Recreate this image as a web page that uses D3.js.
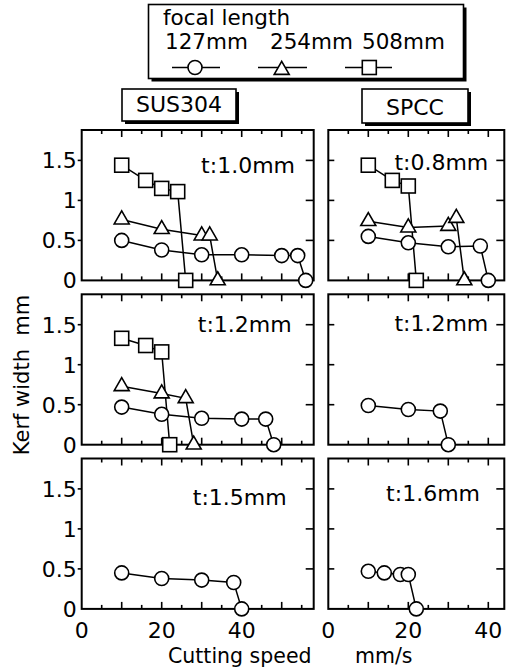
<!DOCTYPE html>
<html><head><meta charset="utf-8">
<script src="https://d3js.org/d3.v7.min.js"></script>
<style>body{margin:0;background:#fff}svg{display:block}</style>
</head><body>
<script>
// ---- data ----
const focalLengths = ["127mm", "254mm", "508mm"];
const materials = ["SUS304", "SPCC"];
const thickLabels = [["t:1.0mm", "t:1.2mm", "t:1.5mm"], ["t:0.8mm", "t:1.2mm", "t:1.6mm"]];
const xTickLabelsSUS = [0, 20, 40];
const xTickLabelsSPCC = [0, 20, 40];
const yTickLabels = [0, 0.5, 1, 1.5];

// SUS304 t:1.0mm
const sus10Circle = [[10,0.50],[20,0.38],[30,0.32],[40,0.32],[50,0.31],[54,0.31],[56,0]];
const sus10Tri    = [[10,0.76],[20,0.64],[30,0.56],[32,0.56],[34,0]];
const sus10Square = [[10,1.44],[16,1.25],[20,1.15],[24,1.11],[26,0]];
// SPCC t:0.8mm
const spcc08Circle = [[10,0.55],[20,0.47],[30,0.42],[38,0.43],[40,0]];
const spcc08Tri    = [[10,0.74],[20,0.66],[30,0.68],[32,0.78],[34,0]];
const spcc08Square = [[10,1.44],[16,1.25],[20,1.18],[22,0]];
// SUS304 t:1.2mm
const sus12Circle = [[10,0.47],[20,0.38],[30,0.33],[40,0.32],[46,0.32],[48,0]];
const sus12Tri    = [[10,0.73],[20,0.64],[26,0.58],[28,0]];
const sus12Square = [[10,1.33],[16,1.24],[20,1.16],[22,0]];
// SPCC t:1.2mm
const spcc12Circle = [[10,0.49],[20,0.44],[28,0.42],[30,0]];
// SUS304 t:1.5mm
const sus15Circle = [[10,0.45],[20,0.38],[30,0.36],[38,0.33],[40,0]];
// SPCC t:1.6mm
const spcc16Circle = [[10,0.47],[14,0.45],[18,0.43],[20,0.43],[22,0]];

const panels = [
  {col:0,row:0,series:[sus10Circle,sus10Tri,sus10Square]},
  {col:1,row:0,series:[spcc08Circle,spcc08Tri,spcc08Square]},
  {col:0,row:1,series:[sus12Circle,sus12Tri,sus12Square]},
  {col:1,row:1,series:[spcc12Circle,null,null]},
  {col:0,row:2,series:[sus15Circle,null,null]},
  {col:1,row:2,series:[spcc16Circle,null,null]}
];

// ---- layout ----
const W = 511, H = 669;
const FONT = "DejaVu Sans, Verdana, sans-serif";
const svg = d3.select("body").append("svg").attr("width", W).attr("height", H)
  .style("font-family", FONT);

const colX = [{left:81.7, max:58}, {left:328.3, max:44}];
const pxPerUnit = 4;
const rowTop = [130, 294.3, 458.5];
const yMax = 1.88, pxPerY = 80;

const xScales = colX.map(c => d3.scaleLinear().domain([0, c.max]).range([c.left, c.left + c.max * pxPerUnit]));
const yScales = rowTop.map(t => d3.scaleLinear().domain([0, yMax]).range([t + yMax * pxPerY, t]));

function marker(g, kind, x, y) {
  const sw = 1.6;
  if (kind === 0) {
    g.append("circle").attr("cx", x).attr("cy", y).attr("r", 7)
      .attr("fill", "#fff").attr("stroke", "#000").attr("stroke-width", sw);
  } else if (kind === 1) {
    const w = 15, h = 13;
    g.append("path").attr("d", `M${x},${y - 2*h/3}L${x + w/2},${y + h/3}L${x - w/2},${y + h/3}Z`)
      .attr("fill", "#fff").attr("stroke", "#000").attr("stroke-width", sw).attr("stroke-linejoin", "miter");
  } else {
    const s = 14;
    g.append("rect").attr("x", x - s/2).attr("y", y - s/2).attr("width", s).attr("height", s)
      .attr("fill", "#fff").attr("stroke", "#000").attr("stroke-width", sw);
  }
}

const labelPos = [
  [{x:295, dy:12.5}, {x:291.7, dy:7}, {x:286.7, dy:16}],
  [{x:488.3, dy:9.5}, {x:488.3, dy:6.5}, {x:480, dy:12.5}]
];

panels.forEach(p => {
  const xs = xScales[p.col], ys = yScales[p.row];
  const g = svg.append("g");
  const [x0, x1] = xs.range();
  const [yb, yt] = ys.range();

  // x ticks (top and bottom, inward)
  const xt = d3.range(5, p.col === 0 ? 58 : 44, 5);
  xt.forEach(v => {
    const len = v % 10 === 0 ? 7 : 4;
    g.append("line").attr("x1", xs(v)).attr("x2", xs(v)).attr("y1", yb).attr("y2", yb - len)
      .attr("stroke", "#000").attr("stroke-width", 1.6);
    g.append("line").attr("x1", xs(v)).attr("x2", xs(v)).attr("y1", yt).attr("y2", yt + len)
      .attr("stroke", "#000").attr("stroke-width", 1.6);
  });
  // y ticks
  [0.5, 1, 1.5].forEach(v => {
    if (p.col === 0) {
      g.append("line").attr("x1", x0 - 4).attr("x2", x0).attr("y1", ys(v)).attr("y2", ys(v))
        .attr("stroke", "#000").attr("stroke-width", 1.6);
    } else {
      g.append("line").attr("x1", x0).attr("x2", x0 + 6).attr("y1", ys(v)).attr("y2", ys(v))
        .attr("stroke", "#000").attr("stroke-width", 1.6);
    }
    g.append("line").attr("x1", x1).attr("x2", x1 - 8).attr("y1", ys(v)).attr("y2", ys(v))
      .attr("stroke", "#000").attr("stroke-width", 1.6);
  });
  // frame
  g.append("rect").attr("x", x0).attr("y", yt).attr("width", x1 - x0).attr("height", yb - yt)
    .attr("fill", "none").attr("stroke", "#000").attr("stroke-width", 2);

  // y tick labels (left column only)
  if (p.col === 0) {
    yTickLabels.forEach(v => {
      g.append("text").attr("x", x0 - 5).attr("y", ys(v)).attr("dy", "0.36em")
        .attr("text-anchor", "end").attr("font-size", 22).text(String(v));
    });
  }
  // x tick labels (bottom row only)
  if (p.row === 2) {
    (p.col === 0 ? xTickLabelsSUS : xTickLabelsSPCC).forEach(v => {
      g.append("text").attr("x", xs(v)).attr("y", yb + 29.5).attr("text-anchor", "middle")
        .attr("font-size", 22).text(String(v));
    });
  }

  // thickness label
  const lp = labelPos[p.col][p.row];
  g.append("text").attr("x", lp.x).attr("y", ys(1.5) + lp.dy).attr("text-anchor", "end")
    .attr("font-size", 22).text(thickLabels[p.col][p.row]);

  // series
  const line = d3.line().x(d => xs(d[0])).y(d => ys(d[1]));
  p.series.forEach((s, k) => {
    if (!s) return;
    g.append("path").attr("d", line(s)).attr("fill", "none").attr("stroke", "#000").attr("stroke-width", 1.5);
  });
  p.series.forEach((s, k) => {
    if (!s) return;
    s.forEach(d => marker(g, k, xs(d[0]), ys(d[1])));
  });
});

// material label boxes
function shadowBox(x, y, w, h) {
  svg.append("rect").attr("x", x + 3).attr("y", y + 3).attr("width", w).attr("height", h).attr("fill", "#000");
  svg.append("rect").attr("x", x).attr("y", y).attr("width", w).attr("height", h)
    .attr("fill", "#fff").attr("stroke", "#000").attr("stroke-width", 1.6);
}
shadowBox(122, 89, 114, 32);
svg.append("text").attr("x", 179).attr("y", 112).attr("text-anchor", "middle").attr("font-size", 22).text(materials[0]);
shadowBox(362, 89, 106, 34);
svg.append("text").attr("x", 415).attr("y", 115).attr("text-anchor", "middle").attr("font-size", 22).text(materials[1]);

// legend
shadowBox(148.5, 4.5, 315, 74);
svg.append("text").attr("x", 163).attr("y", 25).attr("font-size", 21.5).text("focal length");
const legX = [165, 270, 362];
const legMark = [195, 281.7, 369.3];
const legLine = [[172, 220], [258, 307], [345, 392]];
focalLengths.forEach((f, i) => {
  svg.append("text").attr("x", legX[i]).attr("y", 49).attr("font-size", 21.5).text(f);
  svg.append("line").attr("x1", legLine[i][0]).attr("x2", legLine[i][1]).attr("y1", 67.5).attr("y2", 67.5)
    .attr("stroke", "#000").attr("stroke-width", 1.5);
  marker(svg, i, legMark[i], i === 1 ? 70 : 67.5);
});

// axis titles
svg.append("text").attr("x", 168).attr("y", 663).attr("font-size", 20.5).text("Cutting speed");
svg.append("text").attr("x", 355).attr("y", 663).attr("font-size", 20.5).text("mm/s");
svg.append("text").attr("transform", "translate(29,375) rotate(-90)").attr("text-anchor", "middle")
  .attr("font-size", 21).attr("xml:space", "preserve").text("Kerf width  mm");
</script>
</body></html>
